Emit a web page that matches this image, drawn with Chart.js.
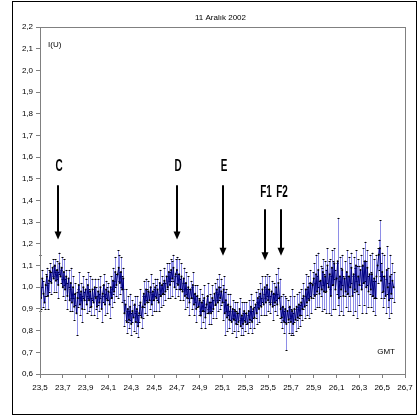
<!DOCTYPE html>
<html lang="tr">
<head>
<meta charset="UTF-8">
<title>11 Aralık 2002</title>
<style>
  html, body { margin: 0; padding: 0; background: #fff; }
  #wrap { position: relative; width: 418px; height: 417px; }
</style>
<script src="https://cdn.jsdelivr.net/npm/chart.js@4"></script>
</head>
<body>
<div id="wrap"><canvas id="grafik" width="418" height="417"></canvas></div>
<script>
// ölçüm zamanları: 23.5 GMT'den başlayıp 0.01 saat aralıklarla
const sampleStart = 23.5;
const sampleStep = 0.01;

// I(U) değerleri, her satır 0.1 saat
const intensity = [
  1.02, 0.95, 1.04, 0.97, 0.93, 1.01, 1.05, 0.96, 1.03, 1.07,   // 23.5
  1.02, 1.09, 1.04, 1.10, 1.03, 1.08, 1.01, 1.11, 1.05, 1.09,   // 23.6
  1.00, 1.07, 0.99, 1.05, 0.96, 1.04, 0.94, 1.02, 0.93, 1.00,   // 23.7
  0.91, 0.97, 0.88, 0.95, 1.01, 0.92, 0.98, 0.90, 1.00, 0.94,   // 23.8
  0.99, 0.92, 1.01, 0.94, 0.98, 0.91, 0.99, 0.93, 1.00, 0.95,   // 23.9
  0.91, 0.98, 0.93, 1.00, 0.90, 0.97, 1.01, 0.92, 0.99, 0.94,   // 24.0
  0.98, 0.92, 1.00, 0.95, 1.03, 0.98, 1.07, 1.01, 1.06, 1.09,   // 24.1
  1.02, 1.07, 0.99, 1.04, 0.88, 0.92, 0.84, 0.90, 0.85, 0.91,   // 24.2
  0.83, 0.89, 0.86, 0.92, 0.84, 0.90, 0.82, 0.88, 0.93, 0.86,   // 24.3
  0.91, 0.97, 0.92, 0.99, 0.93, 0.98, 0.94, 1.00, 0.92, 0.98,   // 24.4
  0.94, 1.00, 0.95, 0.99, 0.93, 1.02, 0.96, 1.01, 0.97, 1.03,   // 24.5
  0.98, 1.05, 1.00, 1.07, 1.01, 1.08, 1.04, 1.09, 1.00, 1.06,   // 24.6
  1.08, 1.01, 1.06, 0.99, 1.05, 0.98, 1.04, 0.96, 1.02, 0.95,   // 24.7
  1.00, 0.93, 0.99, 0.95, 1.01, 0.92, 0.97, 0.90, 0.96, 0.91,   // 24.8
  0.94, 0.87, 0.93, 0.89, 0.95, 0.86, 0.92, 0.96, 0.88, 0.93,   // 24.9
  0.88, 0.95, 0.90, 0.97, 0.92, 0.99, 0.93, 1.00, 0.95, 0.98,   // 25.0
  0.93, 0.99, 0.88, 0.94, 0.86, 0.92, 0.85, 0.91, 0.84, 0.90,   // 25.1
  0.85, 0.89, 0.83, 0.88, 0.84, 0.90, 0.82, 0.87, 0.83, 0.89,   // 25.2
  0.84, 0.88, 0.83, 0.89, 0.85, 0.91, 0.84, 0.90, 0.86, 0.92,   // 25.3
  0.88, 0.95, 0.90, 0.97, 0.91, 0.99, 0.92, 1.00, 0.93, 1.01,   // 25.4
  0.94, 0.99, 0.92, 0.98, 0.91, 0.97, 0.93, 1.00, 0.92, 1.02,   // 25.5
  0.95, 0.90, 0.86, 0.91, 0.84, 0.90, 0.83, 0.89, 0.85, 0.91,   // 25.6
  0.84, 0.89, 0.83, 0.90, 0.85, 0.91, 0.86, 0.92, 0.87, 0.93,   // 25.7
  0.90, 0.96, 0.91, 0.99, 0.93, 1.00, 0.94, 1.02, 0.95, 1.01,   // 25.8
  1.04, 0.96, 1.06, 0.98, 1.08, 0.97, 1.03, 0.99, 1.07, 0.98,   // 25.9
  1.05, 0.98, 1.10, 1.00, 1.06, 0.96, 1.09, 1.01, 1.11, 0.99,   // 26.0
  1.04, 1.12, 0.95, 1.05, 0.99, 1.08, 0.96, 1.04, 0.98, 1.07,   // 26.1
  0.97, 1.05, 1.00, 1.09, 0.96, 1.06, 0.99, 1.10, 0.98, 1.05,   // 26.2
  1.01, 1.08, 0.99, 1.10, 1.02, 1.12, 1.00, 1.09, 0.98, 1.06,   // 26.3
  0.99, 1.06, 0.96, 1.04, 0.95, 1.05, 1.10, 1.15, 1.18, 1.03,   // 26.4
  1.07, 0.98, 1.05, 0.96, 1.08, 1.00, 0.94, 1.05, 0.97, 1.03,   // 26.5
  1.00                                                          // 26.6
];

// hata çubukları (± yarı uzunluk)
const errors = [
  0.13, 0.05, 0.04, 0.06, 0.03, 0.05, 0.04, 0.06, 0.05, 0.04,
  0.05, 0.04, 0.06, 0.03, 0.05, 0.04, 0.06, 0.05, 0.03, 0.05,
  0.04, 0.06, 0.05, 0.03, 0.06, 0.04, 0.05, 0.07, 0.04, 0.05,
  0.06, 0.05, 0.10, 0.04, 0.06, 0.05, 0.04, 0.06, 0.05, 0.04,
  0.05, 0.04, 0.06, 0.05, 0.07, 0.04, 0.05, 0.06, 0.04, 0.05,
  0.05, 0.06, 0.04, 0.05, 0.06, 0.04, 0.05, 0.05, 0.04, 0.06,
  0.04, 0.06, 0.05, 0.04, 0.06, 0.05, 0.07, 0.05, 0.11, 0.06,
  0.05, 0.07, 0.06, 0.05, 0.06, 0.07, 0.05, 0.06, 0.04, 0.06,
  0.05, 0.05, 0.06, 0.04, 0.05, 0.06, 0.05, 0.04, 0.06, 0.05,
  0.05, 0.06, 0.04, 0.05, 0.06, 0.05, 0.04, 0.06, 0.05, 0.04,
  0.05, 0.04, 0.06, 0.05, 0.04, 0.06, 0.05, 0.04, 0.05, 0.06,
  0.04, 0.06, 0.05, 0.04, 0.06, 0.05, 0.08, 0.06, 0.05, 0.07,
  0.06, 0.05, 0.07, 0.05, 0.06, 0.04, 0.05, 0.06, 0.05, 0.04,
  0.05, 0.06, 0.04, 0.05, 0.06, 0.05, 0.04, 0.06, 0.05, 0.04,
  0.05, 0.06, 0.04, 0.05, 0.06, 0.05, 0.04, 0.06, 0.05, 0.04,
  0.05, 0.06, 0.04, 0.05, 0.06, 0.05, 0.04, 0.06, 0.05, 0.06,
  0.08, 0.06, 0.10, 0.05, 0.06, 0.05, 0.04, 0.06, 0.05, 0.04,
  0.05, 0.04, 0.06, 0.05, 0.04, 0.05, 0.04, 0.06, 0.05, 0.04,
  0.04, 0.05, 0.04, 0.05, 0.04, 0.06, 0.05, 0.04, 0.05, 0.06,
  0.05, 0.04, 0.06, 0.05, 0.04, 0.06, 0.05, 0.05, 0.06, 0.05,
  0.05, 0.06, 0.04, 0.05, 0.06, 0.05, 0.04, 0.06, 0.05, 0.07,
  0.09, 0.06, 0.05, 0.06, 0.05, 0.06, 0.12, 0.05, 0.06, 0.05,
  0.06, 0.10, 0.05, 0.06, 0.05, 0.06, 0.05, 0.06, 0.05, 0.06,
  0.05, 0.06, 0.05, 0.07, 0.06, 0.05, 0.08, 0.06, 0.07, 0.06,
  0.07, 0.06, 0.09, 0.07, 0.08, 0.06, 0.07, 0.10, 0.06, 0.08,
  0.07, 0.10, 0.08, 0.12, 0.07, 0.09, 0.08, 0.11, 0.07, 0.09,
  0.07, 0.20, 0.08, 0.09, 0.10, 0.07, 0.09, 0.08, 0.07, 0.10,
  0.08, 0.09, 0.11, 0.07, 0.09, 0.08, 0.10, 0.07, 0.12, 0.08,
  0.09, 0.07, 0.11, 0.08, 0.10, 0.09, 0.12, 0.08, 0.07, 0.09,
  0.08, 0.10, 0.07, 0.09, 0.08, 0.10, 0.08, 0.07, 0.13, 0.08,
  0.09, 0.07, 0.10, 0.08, 0.11, 0.09, 0.08, 0.10, 0.09, 0.08,
  0.07
];

// olay işaretleri: etiket, zaman (GMT), ok başı, ok ucu, etiket yüksekliği
const markLabels = ['C', 'D', 'E', 'F1', 'F2'];
const markTimes  = [23.66, 24.70, 25.10, 25.47, 25.61];
const arrowTop   = [1.47, 1.47, 1.47, 1.36, 1.36];
const arrowTip   = [1.22, 1.22, 1.145, 1.125, 1.145];
const labelLevel = [1.555, 1.555, 1.555, 1.435, 1.435];

const titleText = '11 Aralık 2002';
const yTitle = 'I(U)';
const xTitle = 'GMT';

const times = intensity.map((v, i) => sampleStart + i * sampleStep);
const points = intensity.map((v, i) => ({ x: times[i], y: v }));

const FONT = "'Liberation Sans', Arial, sans-serif";
const fmt = v => v.toFixed(1).replace('.', ',');

// hata çubukları, çizginin altında
const errorBars = {
    id: 'errorBars',
    beforeDatasetsDraw(chart) {
        const ctx = chart.ctx;
        const x = chart.scales.x, y = chart.scales.y;
        ctx.save();
        ctx.lineWidth = 1;
        ctx.strokeStyle = 'rgba(130,130,228,0.9)';
        for (let i = 0; i < intensity.length; i++) {
            const px = Math.round(x.getPixelForValue(times[i])) + 0.5;
            ctx.beginPath();
            ctx.moveTo(px, y.getPixelForValue(intensity[i] + errors[i]));
            ctx.lineTo(px, y.getPixelForValue(intensity[i] - errors[i]));
            ctx.stroke();
        }
        ctx.strokeStyle = '#000';
        for (let i = 0; i < intensity.length; i++) {
            const px = Math.round(x.getPixelForValue(times[i]));
            [intensity[i] + errors[i], intensity[i] - errors[i]].forEach(v => {
                const py = Math.round(y.getPixelForValue(v)) + 0.5;
                ctx.beginPath();
                ctx.moveTo(px - 0.5, py);
                ctx.lineTo(px + 1.5, py);
                ctx.stroke();
            });
        }
        ctx.restore();
    }
};

// çerçeve, başlık ve eksen yazıları
const frame = {
    id: 'frame',
    beforeDraw(chart) {
        const ctx = chart.ctx;
        ctx.save();
        ctx.fillStyle = '#fff';
        ctx.fillRect(0, 0, chart.width, chart.height);
        ctx.strokeStyle = '#000';
        ctx.lineWidth = 1;
        ctx.strokeRect(12.5, 1.5, 404, 413);
        ctx.restore();
    },
    afterDraw(chart) {
        const ctx = chart.ctx, a = chart.chartArea;
        ctx.save();
        ctx.strokeStyle = '#808080';
        ctx.lineWidth = 1;
        ctx.strokeRect(Math.round(a.left) + 0.5, Math.round(a.top) + 0.5,
                       Math.round(a.right - a.left), Math.round(a.bottom - a.top));
        ctx.fillStyle = '#000';
        ctx.font = '8px ' + FONT;
        ctx.textAlign = 'center';
        ctx.textBaseline = 'middle';
        ctx.fillText(titleText, (a.left + a.right) / 2 - 2, 18);
        ctx.textAlign = 'left';
        ctx.fillText(yTitle, a.left + 8, a.top + 18);
        ctx.textAlign = 'right';
        ctx.fillText(xTitle, a.right - 10, a.bottom - 22);
        ctx.restore();
    }
};

// C, D, E, F1, F2 okları
const arrows = {
    id: 'arrows',
    afterDatasetsDraw(chart) {
        const ctx = chart.ctx;
        const x = chart.scales.x, y = chart.scales.y;
        ctx.save();
        ctx.fillStyle = '#000';
        ctx.strokeStyle = '#000';
        markLabels.forEach((lab, i) => {
            const px = Math.round(x.getPixelForValue(markTimes[i]));
            const top = y.getPixelForValue(arrowTop[i]);
            const tip = y.getPixelForValue(arrowTip[i]);
            ctx.lineWidth = 2;
            ctx.beginPath();
            ctx.moveTo(px, top);
            ctx.lineTo(px, tip - 6);
            ctx.stroke();
            ctx.beginPath();
            ctx.moveTo(px - 3.5, tip - 8);
            ctx.lineTo(px + 3.5, tip - 8);
            ctx.lineTo(px, tip);
            ctx.closePath();
            ctx.fill();
            // dar kalın etiket
            ctx.save();
            ctx.translate(px + 1, y.getPixelForValue(labelLevel[i]));
            ctx.scale(0.62, 1);
            ctx.font = 'bold 16px ' + FONT;
            ctx.textAlign = 'center';
            ctx.textBaseline = 'middle';
            ctx.fillText(lab, 0, 0);
            ctx.restore();
        });
        ctx.restore();
    }
};

new Chart(document.getElementById('grafik'), {
    type: 'line',
    data: {
        datasets: [{
            label: yTitle,
            data: points,
            borderColor: '#000080',
            borderWidth: 1,
            pointRadius: 1,
            pointBackgroundColor: '#000',
            pointBorderWidth: 0,
            pointHoverRadius: 0,
            tension: 0
        }]
    },
    options: {
        responsive: false,
        animation: false,
        events: [],
        layout: { padding: { top: 27, right: 13, left: 0, bottom: 0 } },
        plugins: {
            legend: { display: false },
            title: { display: false },
            tooltip: { enabled: false }
        },
        scales: {
            x: {
                type: 'linear',
                min: 23.5,
                max: 26.7,
                afterFit: s => { s.height = 43; },
                ticks: {
                    stepSize: 0.2,
                    autoSkip: false,
                    maxRotation: 0,
                    padding: 5,
                    color: '#000',
                    font: { family: FONT, size: 8 },
                    callback: v => fmt(v)
                },
                grid: { drawOnChartArea: false, tickLength: 4, color: '#808080' },
                border: { color: '#808080' }
            },
            y: {
                min: 0.6,
                max: 2.2,
                afterFit: s => { s.width = 40; },
                ticks: {
                    stepSize: 0.1,
                    autoSkip: false,
                    padding: 3,
                    color: '#000',
                    font: { family: FONT, size: 8 },
                    callback: v => fmt(v)
                },
                grid: { drawOnChartArea: false, tickLength: 4, color: '#808080' },
                border: { color: '#808080' }
            }
        }
    },
    plugins: [frame, errorBars, arrows]
});
</script>
</body>
</html>
